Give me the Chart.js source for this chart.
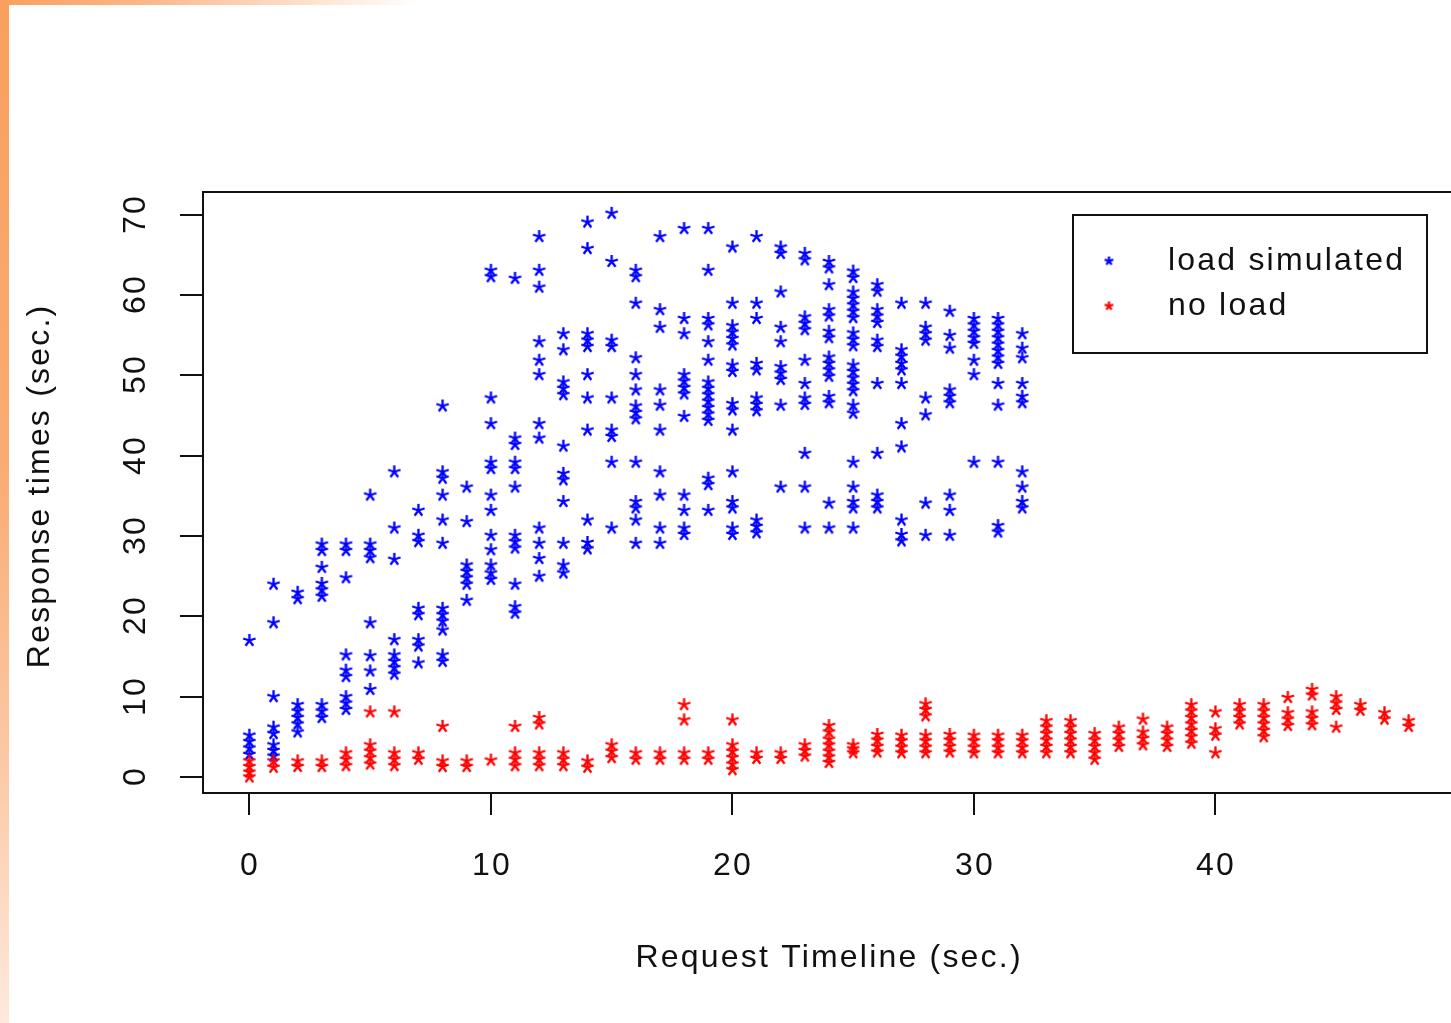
<!DOCTYPE html>
<html>
<head>
<meta charset="utf-8">
<script src="https://cdn.jsdelivr.net/npm/chart.js@4.4.1/dist/chart.umd.min.js"></script>
<style>
    html, body { margin: 0; padding: 0; background: #fff; overflow: hidden; }
    #wrap { position: relative; width: 1451px; height: 1023px; overflow: hidden; }
    #chart { position: absolute; left: 0; top: 0; }
    .edge-left { position: absolute; left: 0; top: 0; width: 9px; height: 1023px;
        background: linear-gradient(to bottom, #fa9f5e 0%, #fbab72 45%, #fcc9a6 75%, #fee9dc 100%); }
    .edge-top { position: absolute; left: 0; top: 0; width: 420px; height: 5px;
        background: linear-gradient(to right, #fa9f5e 0%, #fbb789 35%, #fff 100%); }
</style>
</head>
<body>
<div id="wrap">
    <canvas id="chart" width="1460" height="1023"></canvas>
    <div class="edge-left"></div>
    <div class="edge-top"></div>
</div>
<script>
// --- DATA (index = request second) ---
const loadSimulated = [
    [17, 5.2, 4.4, 3.6, 2.8],
    [24.0, 19.2, 10.0, 6.2, 5.4, 4.0, 3.3, 2.6],
    [23.0, 22.2, 9.0, 8.2, 7.4, 6.6, 5.6],
    [29.0, 28.2, 26.1, 24.1, 23.3, 22.5, 9.0, 8.2, 7.4],
    [29.0, 28.2, 24.8, 15.2, 13.3, 12.5, 10.0, 9.2, 8.4],
    [35.1, 29.0, 28.2, 27.3, 19.2, 15.1, 13.2, 10.9],
    [38.0, 31.0, 27.1, 17.1, 15.2, 14.4, 13.6, 12.8],
    [33.2, 30.1, 29.3, 21.0, 20.2, 17.1, 16.3, 14.2],
    [46.2, 38.0, 37.2, 35.1, 32.0, 29.1, 21.0, 20.2, 19.4, 18.3, 15.2, 14.4],
    [36.1, 31.8, 26.4, 25.6, 24.8, 24.0, 22.0],
    [63.1, 62.3, 47.2, 44.0, 39.2, 38.4, 35.1, 33.2, 30.1, 28.3, 26.4, 25.4, 24.6],
    [62.1, 42.2, 41.4, 39.2, 38.4, 36.1, 30.1, 29.3, 28.5, 24.0, 21.2, 20.4],
    [67.3, 63.1, 61.0, 54.2, 51.9, 50.1, 44.0, 42.2, 31.0, 29.1, 27.2, 25.0],
    [55.2, 53.2, 49.2, 48.4, 47.6, 41.2, 37.8, 37.0, 34.3, 29.1, 26.4, 25.4],
    [69.1, 65.8, 55.2, 54.4, 53.6, 50.1, 47.2, 43.2, 32.0, 29.2, 28.4],
    [70.2, 64.2, 54.4, 53.6, 47.2, 43.2, 42.4, 39.2, 31.0],
    [63.1, 62.3, 59.0, 52.2, 50.1, 48.2, 46.2, 45.4, 44.6, 39.2, 34.3, 33.5, 32.0, 29.1],
    [67.3, 58.2, 56.0, 48.2, 46.3, 43.2, 38.0, 35.1, 31.0, 29.1],
    [68.3, 57.1, 55.2, 50.1, 49.3, 48.5, 47.7, 44.9, 35.1, 33.2, 31.0, 30.2],
    [68.3, 63.1, 57.1, 56.3, 54.2, 51.9, 49.2, 48.4, 47.6, 46.8, 46.0, 45.2, 44.4, 37.2, 36.4, 33.2],
    [66.0, 59.0, 56.2, 55.4, 54.6, 53.8, 51.3, 50.5, 46.5, 45.7, 43.2, 38.0, 34.3, 33.5, 31.0, 30.2],
    [67.3, 59.0, 57.1, 51.5, 50.7, 47.2, 46.4, 45.6, 32.0, 31.2, 30.4],
    [66.0, 65.2, 60.4, 56.0, 54.2, 51.1, 50.3, 49.5, 46.3, 36.1],
    [65.2, 64.4, 57.3, 56.5, 55.7, 51.9, 49.0, 47.2, 46.4, 40.3, 36.1, 31.0],
    [64.2, 63.4, 61.3, 58.2, 57.4, 55.5, 54.7, 52.3, 51.5, 50.7, 49.9, 47.4, 46.6, 34.1, 31.0],
    [63.0, 62.2, 60.4, 59.6, 58.8, 58.0, 57.2, 55.3, 54.5, 53.7, 51.3, 50.5, 49.7, 48.9, 48.1, 46.3, 45.3, 39.2, 36.1, 34.3, 33.5, 31.0],
    [61.3, 60.5, 58.2, 57.4, 56.6, 54.4, 53.6, 49.0, 40.3, 35.1, 34.3, 33.5],
    [59.0, 53.2, 52.4, 51.5, 50.7, 49.0, 44.0, 41.1, 32.0, 30.2, 29.4],
    [59.0, 56.0, 55.2, 54.4, 47.2, 45.1, 34.1, 30.1],
    [58.0, 55.0, 53.4, 48.2, 47.4, 46.6, 35.1, 33.2, 30.1],
    [57.1, 56.3, 55.5, 54.7, 54.0, 51.9, 50.1, 39.2],
    [57.1, 56.3, 55.5, 54.7, 53.9, 53.1, 52.3, 51.5, 49.0, 46.3, 39.2, 31.3, 30.5],
    [55.2, 53.4, 52.2, 49.0, 47.4, 46.6, 38.0, 36.1, 34.3, 33.5]
];

const noLoad = [
    [2.0, 1.3, 0.6, 0], [2.0, 1.2], [2.0, 1.3], [2.0, 1.3], [3.0, 2.2, 1.4],
    [8.1, 4.0, 3.2, 2.4, 1.6], [8.1, 3.0, 2.2, 1.4], [3.0, 2.2], [6.3, 2.0, 1.3], [2.0, 1.3],
    [2.1], [6.3, 3.0, 2.2, 1.4], [7.4, 6.6, 3.0, 2.2, 1.4], [3.0, 2.2, 1.4], [2.0, 1.2],
    [4.0, 3.2, 2.4], [3.0, 2.2], [3.0, 2.2], [9.0, 7.1, 3.0, 2.2], [3.0, 2.2],
    [7.1, 4.0, 3.2, 2.4, 1.6, 0.9], [3.0, 2.3], [3.0, 2.3], [4.0, 3.3, 2.6],
    [6.4, 5.6, 4.7, 4.0, 3.2, 2.5, 1.8], [4.0, 3.5, 3.0], [5.3, 4.6, 3.8, 3.1],
    [5.2, 4.5, 3.7, 3.0], [9.1, 8.4, 7.6, 5.2, 4.5, 3.7, 3.0], [5.3, 4.6, 3.8, 3.1],
    [5.2, 4.5, 3.7, 3.0], [5.2, 4.5, 3.7, 3.0], [5.2, 4.5, 3.7, 3.0],
    [7.0, 6.2, 5.4, 4.6, 3.8, 3.0], [7.0, 6.2, 5.4, 4.6, 3.8, 3.0], [5.4, 4.6, 3.8, 3.0, 2.2],
    [6.2, 5.4, 4.6, 3.8], [7.2, 5.6, 4.8, 4.0], [6.2, 5.4, 4.6, 3.8],
    [9.0, 8.2, 7.4, 6.6, 5.8, 5.0, 4.2], [8.1, 6.0, 5.2, 3.0], [9.0, 8.2, 7.4, 6.6],
    [9.0, 8.2, 7.4, 6.6, 5.8, 5.0], [9.9, 8.0, 7.2, 6.4], [10.9, 10.2, 8.1, 7.3, 6.5],
    [10.0, 9.2, 8.4, 6.2], [9.0, 8.3], [8.0, 7.2], [7.0, 6.3]
];

const seriesLabels = ['load simulated', 'no load'];
const seriesColors = ['#0000ff', '#ff0000'];
const xTicks = [0, 10, 20, 30, 40];
const yTicks = [0, 10, 20, 30, 40, 50, 60, 70];
const xTitle = 'Request Timeline (sec.)';
const yTitle = 'Response times (sec.)';

const FONT = '32px "Liberation Sans", Arial, sans-serif';

// flatten columns into {x, y} points
const toPoints = (cols) => cols.flatMap((vals, sec) => vals.map(v => ({ x: sec, y: v })));

// R style asterisk marker
const makeStar = (color, size) => {
    const c = document.createElement('canvas');
    c.width = size; c.height = size;
    const g = c.getContext('2d');
    const m = size / 2, r = size / 2 - 1;
    g.strokeStyle = color;
    g.lineWidth = 2.3;
    g.beginPath();
    for (let k = 0; k < 5; k++) {
        const a = -Math.PI / 2 + k * 2 * Math.PI / 5;
        g.moveTo(m, m);
        g.lineTo(m + r * Math.cos(a), m + r * Math.sin(a));
    }
    g.stroke();
    return c;
};

const starImgs = seriesColors.map(c => makeStar(c, 15));
const legendStars = seriesColors.map(c => makeStar(c, 11));

// draw text centred, ignoring the trailing letter spacing
const centreText = (ctx, txt, cx, cy, spacing) => {
    const w = ctx.measureText(txt).width - spacing;
    ctx.textAlign = 'left';
    ctx.fillText(txt, cx - w / 2, cy);
};

// --- custom R-like frame, axes and legend ---
const rFrame = {
    id: 'rFrame',
    afterDraw(chart) {
        const { ctx, chartArea: a, scales: { x, y } } = chart;
        const sp = 2.2;
        ctx.save();
        ctx.strokeStyle = '#111';
        ctx.fillStyle = '#111';
        ctx.lineWidth = 2;
        ctx.strokeRect(a.left, a.top, a.right - a.left, a.bottom - a.top);

        ctx.font = FONT;
        ctx.letterSpacing = sp + 'px';
        ctx.textBaseline = 'middle';

        x.ticks.forEach(t => {
            const px = Math.round(x.getPixelForValue(t.value));
            ctx.beginPath();
            ctx.moveTo(px, a.bottom);
            ctx.lineTo(px, a.bottom + 22);
            ctx.stroke();
            centreText(ctx, String(t.value), px, 866, sp);
        });

        y.ticks.forEach(t => {
            const py = Math.round(y.getPixelForValue(t.value));
            ctx.beginPath();
            ctx.moveTo(a.left - 23, py);
            ctx.lineTo(a.left, py);
            ctx.stroke();
            ctx.save();
            ctx.translate(136, py);
            ctx.rotate(-Math.PI / 2);
            centreText(ctx, String(t.value), 0, 0, sp);
            ctx.restore();
        });

        // axis titles
        centreText(ctx, xTitle, 828, 958, sp);
        ctx.save();
        ctx.translate(40, 487);
        ctx.rotate(-Math.PI / 2);
        centreText(ctx, yTitle, 0, 0, sp);
        ctx.restore();

        // legend box
        ctx.fillStyle = '#fff';
        ctx.fillRect(1073, 215, 354, 138);
        ctx.strokeRect(1073, 215, 354, 138);
        ctx.fillStyle = '#111';
        ctx.textAlign = 'left';
        const rows = [261, 306];
        chart.data.datasets.forEach((ds, i) => {
            ctx.drawImage(legendStars[i], 1109 - 5.5, rows[i] - 5.5);
            ctx.fillText(ds.label, 1168, rows[i]);
        });
        ctx.restore();
    }
};

new Chart(document.getElementById('chart'), {
    type: 'scatter',
    data: {
        datasets: [
            { label: seriesLabels[0], data: toPoints(loadSimulated), pointStyle: starImgs[0], order: 1 },
            { label: seriesLabels[1], data: toPoints(noLoad), pointStyle: starImgs[1], order: 0 }
        ]
    },
    options: {
        responsive: false,
        animation: false,
        layout: { padding: { left: 0, top: 192, right: 3, bottom: 0 } },
        plugins: { legend: { display: false }, tooltip: { enabled: false } },
        scales: {
            x: {
                type: 'linear', min: -1.92, max: 49.92,
                grid: { display: false }, border: { display: false },
                ticks: { display: false },
                afterBuildTicks: (s) => { s.ticks = xTicks.map(v => ({ value: v })); },
                afterFit: (s) => { s.height = 230; }
            },
            y: {
                type: 'linear', min: -2.0, max: 72.85,
                grid: { display: false }, border: { display: false },
                ticks: { display: false },
                afterBuildTicks: (s) => { s.ticks = yTicks.map(v => ({ value: v })); },
                afterFit: (s) => { s.width = 203; }
            }
        }
    },
    plugins: [rFrame]
});
</script>
</body>
</html>
